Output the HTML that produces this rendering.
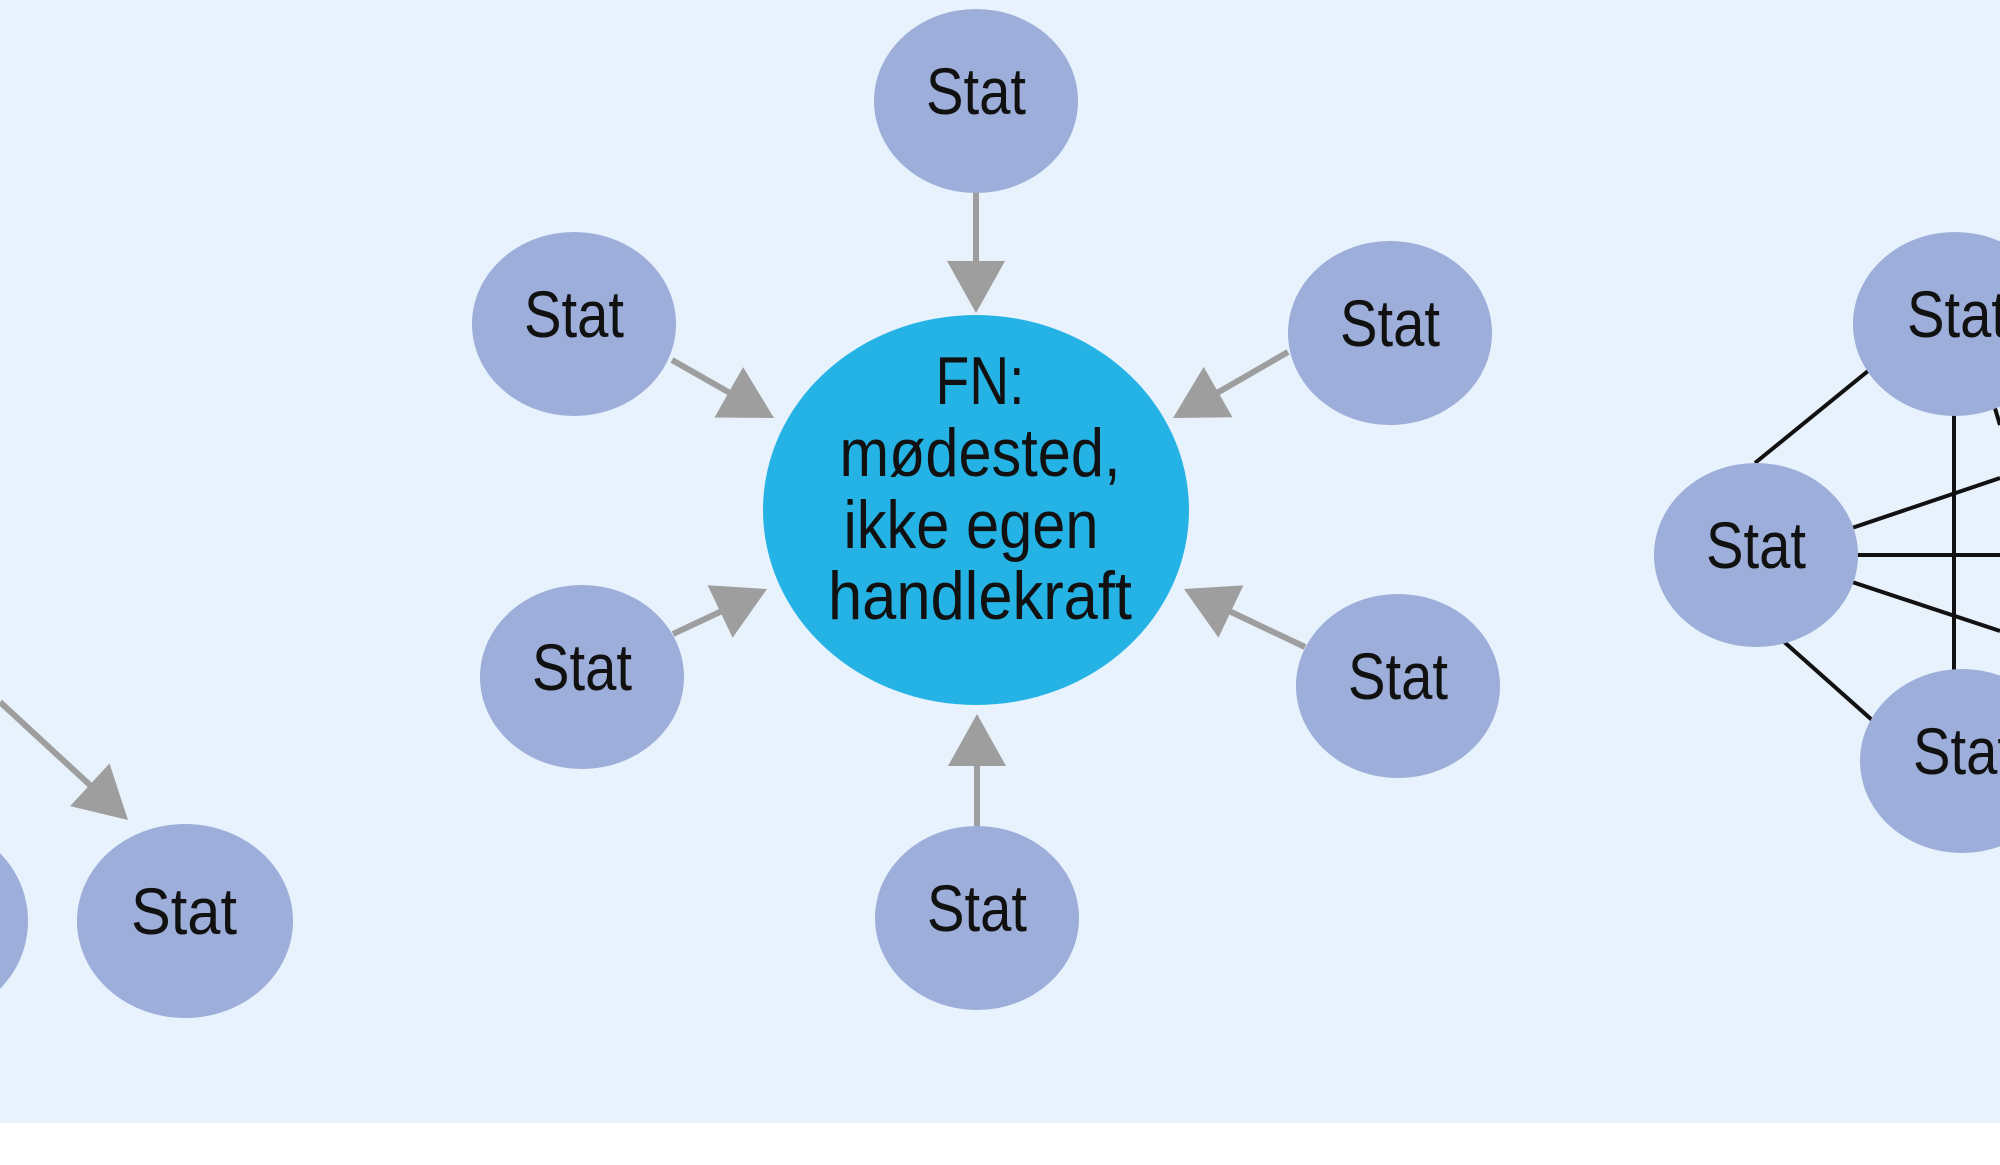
<!DOCTYPE html>
<html><head><meta charset="utf-8"><style>
html,body{margin:0;padding:0;background:#fff}
svg{display:block}
text{font-family:"Liberation Sans",sans-serif;fill:#111;text-anchor:middle}
</style></head><body>
<svg width="2000" height="1165" viewBox="0 0 2000 1165" xmlns="http://www.w3.org/2000/svg">
<rect x="0" y="0" width="2000" height="1123" fill="#e7f2fc"/>
<g stroke="#9e9e9e" stroke-width="6">
<line x1="976" y1="192" x2="976" y2="263"/>
<line x1="672" y1="360" x2="730" y2="393"/>
<line x1="1288" y1="352" x2="1217" y2="393"/>
<line x1="673" y1="634" x2="722" y2="611"/>
<line x1="1305" y1="647" x2="1229" y2="611"/>
<line x1="977" y1="828" x2="977" y2="764"/>
<line x1="0" y1="702" x2="91" y2="786"/>
</g>
<g fill="#9e9e9e">
<polygon points="976,313 947,261 1005,261"/>
<polygon points="774,418 714.5,417.5 743.1,367.1"/>
<polygon points="1173,418 1203.7,366.9 1232.5,417.3"/>
<polygon points="767,589 732.6,637.7 707.6,585.3"/>
<polygon points="1184,589 1243.4,585.4 1218.4,637.6"/>
<polygon points="977,714 948,766 1006,766"/>
<polygon points="128,820 70.1,806.1 109.5,763.5"/>
</g>
<g stroke="#111" stroke-width="4">
<line x1="1755" y1="463" x2="1868" y2="371"/>
<line x1="1954" y1="410" x2="1954" y2="672"/>
<line x1="1840" y1="532" x2="2000" y2="478"/>
<line x1="1840" y1="555" x2="2000" y2="555"/>
<line x1="1840" y1="578" x2="2000" y2="631"/>
<line x1="1782" y1="640" x2="1872" y2="720"/>
<line x1="1994" y1="405" x2="2000" y2="425"/>
</g>
<ellipse cx="976" cy="510" rx="213" ry="195" fill="#25b3e6"/>
<g fill="#9caed9">
<ellipse cx="976" cy="101" rx="102" ry="92"/>
<ellipse cx="574" cy="324" rx="102" ry="92"/>
<ellipse cx="1390" cy="333" rx="102" ry="92"/>
<ellipse cx="582" cy="677" rx="102" ry="92"/>
<ellipse cx="1398" cy="686" rx="102" ry="92"/>
<ellipse cx="977" cy="918" rx="102" ry="92"/>
<ellipse cx="185" cy="921" rx="108" ry="97"/>
<ellipse cx="-70" cy="921" rx="98" ry="97"/>
<ellipse cx="1955" cy="324" rx="102" ry="92"/>
<ellipse cx="1756" cy="555" rx="102" ry="92"/>
<ellipse cx="1962" cy="761" rx="102" ry="92"/>
</g>
<g font-size="66">
<text x="976" y="114" textLength="100" lengthAdjust="spacingAndGlyphs">Stat</text>
<text x="574" y="337" textLength="100" lengthAdjust="spacingAndGlyphs">Stat</text>
<text x="1390" y="346" textLength="100" lengthAdjust="spacingAndGlyphs">Stat</text>
<text x="582" y="690" textLength="100" lengthAdjust="spacingAndGlyphs">Stat</text>
<text x="1398" y="699" textLength="100" lengthAdjust="spacingAndGlyphs">Stat</text>
<text x="977" y="931" textLength="100" lengthAdjust="spacingAndGlyphs">Stat</text>
<text x="184" y="934" textLength="106" lengthAdjust="spacingAndGlyphs">Stat</text>
<text x="1957" y="337" textLength="100" lengthAdjust="spacingAndGlyphs">Stat</text>
<text x="1756" y="568" textLength="100" lengthAdjust="spacingAndGlyphs">Stat</text>
<text x="1963" y="774" textLength="100" lengthAdjust="spacingAndGlyphs">Stat</text>
</g>
<g font-size="68">
<text x="980" y="404" textLength="89" lengthAdjust="spacingAndGlyphs">FN:</text>
<text x="980" y="476" textLength="281" lengthAdjust="spacingAndGlyphs">mødested,</text>
<text x="971" y="548" textLength="255" lengthAdjust="spacingAndGlyphs">ikke egen</text>
<text x="980" y="619" textLength="304" lengthAdjust="spacingAndGlyphs">handlekraft</text>
</g>
</svg>
</body></html>
